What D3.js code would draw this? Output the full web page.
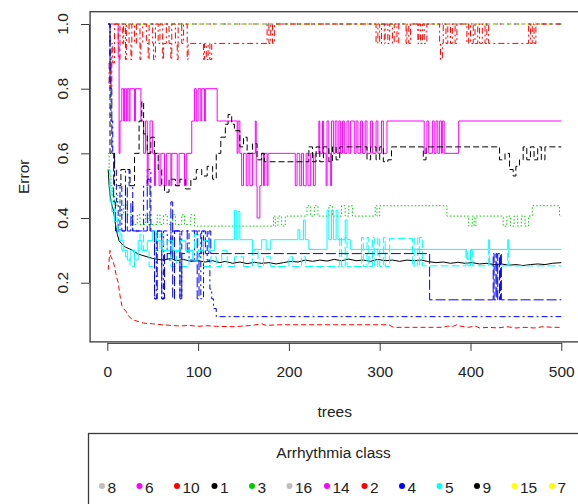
<!DOCTYPE html>
<html><head><meta charset="utf-8">
<script src="https://cdn.jsdelivr.net/npm/d3@7"></script>
<style>
html,body{margin:0;padding:0;background:#fff;}
svg{display:block;}
text{font-family:"Liberation Sans",Arial,sans-serif;fill:#222;}
</style>
</head><body>
<svg id="c" width="578" height="504"></svg>
<script>
// ---- data: [trees, error] change points ----
const xTicks = [0, 100, 200, 300, 400, 500];
const yTicks = [0.2, 0.4, 0.6, 0.8, 1.0];
const xLabel = "trees";
const yLabel = "Error";
const legendTitle = "Arrhythmia class";
const legendLabels = ["8","6","10","1","3","16","14","2","4","5","9","15","7"];
const legendColors = ["#BEBEBE","#FF00FF","#FF0000","#000000","#00CD00","#BEBEBE","#FF00FF","#FF0000","#0000FF","#00FFFF","#000000","#FFFF00","#FFFF00"];

const errOOB = [[1,0.55],[2,0.5],[3,0.47],[5,0.44],[7,0.42],[9,0.38],[11,0.35],[13,0.33],[16,0.32],[20,0.31],[24,0.305],[28,0.3],[33,0.29],[38,0.285],[44,0.28],[50,0.275],[56,0.272],[62,0.27],[70,0.275],[76,0.268],[84,0.272],[92,0.266],[100,0.268],[108,0.264],[116,0.268],[124,0.262],[130,0.266],[138,0.26],[146,0.264],[154,0.259],[162,0.263],[170,0.26],[178,0.262],[186,0.258],[194,0.262],[202,0.266],[210,0.264],[218,0.27],[226,0.266],[234,0.27],[242,0.267],[250,0.272],[258,0.268],[266,0.273],[274,0.268],[282,0.27],[290,0.266],[298,0.272],[306,0.268],[314,0.27],[322,0.266],[330,0.27],[338,0.268],[346,0.27],[354,0.265],[362,0.262],[370,0.264],[378,0.26],[386,0.263],[394,0.26],[402,0.262],[410,0.258],[418,0.26],[426,0.256],[434,0.258],[442,0.254],[450,0.256],[458,0.253],[466,0.256],[474,0.258],[482,0.256],[490,0.26],[500,0.262]];

const errRedLow = [[1,0.24],[2,0.27],[3,0.3],[4,0.28],[6,0.27],[8,0.25],[10,0.22],[12,0.2],[14,0.16],[16,0.13],[18,0.12],[21,0.11],[24,0.095],[28,0.085],[34,0.08],[40,0.075],[50,0.073],[60,0.07],[70,0.068],[80,0.066],[90,0.068],[100,0.065],[110,0.067],[120,0.065],[140,0.064],[160,0.068],[170,0.073],[175,0.068],[190,0.07],[250,0.07],[310,0.07],[315,0.062],[370,0.062],[375,0.066],[380,0.064],[385,0.07],[388,0.066],[393,0.064],[398,0.062],[405,0.066],[410,0.06],[420,0.062],[430,0.06],[440,0.064],[450,0.06],[460,0.062],[470,0.06],[480,0.064],[490,0.062],[500,0.062]];

const errGreen = [[1,0.6],[2,0.53],[4,0.5],[6,0.47],[8,0.44],[11,0.47],[14,0.41],[18,0.44],[22,0.41],[27,0.38],[33,0.41],[36,0.38],[42,0.41],[45,0.38],[55,0.41],[58,0.38],[62,0.41],[66,0.38],[72,0.41],[75,0.38],[82,0.41],[85,0.38],[92,0.41],[96,0.375],[183,0.406],[185,0.375],[188,0.406],[192,0.375],[196,0.406],[220,0.438],[224,0.406],[228,0.438],[232,0.406],[244,0.438],[248,0.406],[258,0.438],[262,0.406],[266,0.438],[270,0.406],[295,0.438],[297,0.406],[300,0.438],[374,0.406],[398,0.375],[402,0.406],[404,0.375],[406,0.406],[436,0.375],[440,0.406],[444,0.375],[448,0.406],[452,0.375],[456,0.406],[460,0.375],[464,0.406],[468,0.438],[496,0.438],[498,0.406],[500,0.406]];

const errBlueDotDash = [[1,1.0],[3,0.9],[4,0.7],[6,0.6],[8,0.55],[10,0.45],[12,0.36],[14,0.5],[16,0.36],[20,0.55],[24,0.5],[28,0.36],[40,0.5],[44,0.55],[48,0.36],[52,0.15],[54,0.36],[60,0.15],[62,0.36],[66,0.27],[70,0.36],[80,0.15],[82,0.36],[90,0.27],[96,0.36],[103,0.15],[106,0.36],[110,0.27],[113,0.18],[115,0.15],[117,0.12],[120,0.095],[500,0.095]];

const errCyanDash = [[1,0.55],[3,0.5],[5,0.45],[8,0.4],[12,0.35],[16,0.3],[20,0.28],[25,0.25],[30,0.3],[36,0.35],[40,0.3],[46,0.25],[52,0.3],[58,0.35],[62,0.3],[70,0.25],[76,0.3],[82,0.25],[90,0.3],[96,0.35],[100,0.3],[106,0.25],[114,0.28],[120,0.25],[126,0.3],[132,0.25],[140,0.28],[150,0.25],[160,0.3],[166,0.25],[172,0.28],[180,0.25],[200,0.28],[204,0.25],[214,0.28],[218,0.25],[256,0.34],[258,0.25],[262,0.34],[264,0.25],[280,0.34],[282,0.25],[286,0.34],[288,0.25],[292,0.34],[294,0.25],[298,0.34],[300,0.25],[304,0.34],[306,0.25],[311,0.337],[336,0.25],[338,0.34],[342,0.25],[344,0.34],[347,0.252],[395,0.3],[397,0.252],[400,0.3],[402,0.252],[420,0.3],[421,0.252],[441,0.3],[442,0.252],[500,0.252]];

const errMagenta = [[1,1.0],[12,0.9],[13,0.6],[14,0.7],[16,0.8],[18,0.7],[19,0.8],[21,0.7],[22,0.8],[24,0.7],[25,0.8],[30,0.7],[31,0.8],[37,0.7],[40,0.6],[42,0.7],[44,0.5],[45,0.6],[47,0.7],[50,0.6],[52,0.5],[53,0.6],[57,0.5],[59,0.6],[63,0.5],[65,0.6],[70,0.5],[71,0.6],[77,0.5],[79,0.6],[85,0.5],[87,0.6],[93,0.7],[96,0.8],[98,0.7],[100,0.8],[103,0.7],[104,0.8],[107,0.7],[108,0.8],[121,0.7],[143,0.6],[144,0.7],[146,0.6],[148,0.5],[150,0.6],[153,0.5],[155,0.6],[157,0.5],[160,0.6],[163,0.7],[164,0.5],[165,0.4],[168,0.5],[170,0.6],[172,0.5],[173,0.6],[176,0.5],[177,0.6],[207,0.5],[209,0.6],[212,0.5],[214,0.6],[216,0.5],[219,0.6],[221,0.5],[224,0.6],[227,0.5],[229,0.6],[233,0.7],[234,0.6],[237,0.7],[238,0.6],[241,0.5],[242,0.7],[244,0.6],[246,0.5],[247,0.7],[249,0.6],[251,0.7],[253,0.6],[255,0.7],[257,0.6],[259,0.7],[261,0.6],[264,0.7],[266,0.6],[268,0.7],[272,0.6],[274,0.7],[276,0.6],[279,0.7],[281,0.6],[284,0.7],[286,0.6],[290,0.7],[292,0.6],[296,0.7],[298,0.6],[302,0.7],[304,0.6],[308,0.7],[349,0.6],[352,0.7],[354,0.6],[358,0.7],[360,0.6],[362,0.7],[364,0.6],[366,0.7],[368,0.6],[369,0.7],[371,0.6],[387,0.7],[500,0.7]];

const errYellow = [[1,1.0],[500,1.0]];
const errGray = [[1,1.0],[500,1.0]];
const errGreenTop = [[1,1.0],[500,1.0]];
const errMagentaTop = [[1,1.0],[500,1.0]];

const errBlackDash = [[1,1.0],[3,0.6],[8,0.5],[15,0.55],[25,0.5],[30,0.6],[35,0.7],[38,0.76],[40,0.66],[44,0.6],[48,0.65],[52,0.6],[56,0.55],[60,0.5],[63,0.48],[68,0.52],[75,0.5],[80,0.52],[86,0.49],[92,0.52],[98,0.55],[104,0.53],[110,0.56],[116,0.52],[120,0.6],[125,0.65],[130,0.69],[133,0.72],[137,0.69],[140,0.67],[146,0.62],[150,0.65],[154,0.6],[160,0.63],[165,0.58],[170,0.6],[173,0.574],[222,0.62],[226,0.574],[230,0.62],[234,0.574],[238,0.62],[244,0.574],[248,0.62],[252,0.58],[256,0.62],[286,0.58],[290,0.62],[296,0.58],[300,0.62],[304,0.574],[309,0.58],[313,0.62],[348,0.58],[351,0.62],[432,0.58],[438,0.6],[443,0.55],[447,0.53],[450,0.56],[454,0.58],[458,0.62],[462,0.58],[466,0.62],[470,0.58],[474,0.62],[478,0.58],[482,0.62],[500,0.62]];

const errRedTop = [[1,0.82],[2,0.88],[4,0.8],[5,0.94],[6,0.88],[8,1.0],[12,0.94],[13,0.89],[14,1.0],[17,0.94],[18,1.0],[20,0.89],[21,1.0],[24,0.94],[26,0.89],[27,1.0],[30,0.94],[32,1.0],[36,0.89],[37,0.94],[39,1.0],[43,0.94],[45,0.89],[46,1.0],[50,0.94],[51,0.89],[53,1.0],[56,0.94],[58,1.0],[61,0.89],[62,0.94],[65,1.0],[68,0.94],[70,0.89],[71,1.0],[75,0.94],[77,0.89],[78,1.0],[82,0.94],[84,1.0],[88,0.89],[89,0.94],[106,0.89],[107,0.94],[109,0.89],[111,0.94],[113,0.89],[115,0.94],[176,1.0],[178,0.94],[180,1.0],[182,0.94],[184,1.0],[296,0.94],[298,1.0],[300,0.94],[302,1.0],[305,0.94],[306,1.0],[309,0.94],[311,1.0],[314,0.94],[316,1.0],[319,0.94],[321,1.0],[329,0.94],[330,1.0],[332,0.94],[334,1.0],[342,0.94],[343,1.0],[345,0.94],[347,1.0],[349,0.94],[352,1.0],[366,0.94],[367,0.89],[369,0.94],[370,1.0],[373,0.94],[375,1.0],[378,0.94],[380,1.0],[383,0.94],[385,1.0],[396,0.94],[398,1.0],[400,0.94],[403,1.0],[405,0.94],[408,1.0],[410,0.94],[413,1.0],[416,0.94],[418,1.0],[420,0.94],[464,1.0],[466,0.94],[468,1.0],[470,0.94],[472,1.0],[500,1.0]];

const errBlueDash = [[1,1.0],[3,0.8],[5,0.6],[7,0.45],[9,0.36],[20,0.5],[22,0.36],[26,0.45],[28,0.36],[44,0.52],[47,0.36],[52,0.15],[55,0.36],[60,0.15],[63,0.29],[70,0.45],[72,0.15],[74,0.36],[80,0.15],[82,0.29],[88,0.36],[99,0.15],[101,0.29],[104,0.36],[108,0.29],[112,0.36],[114,0.29],[355,0.147],[425,0.29],[426,0.147],[428,0.29],[429,0.147],[430,0.29],[432,0.147],[433,0.29],[434,0.147],[500,0.147]];

const errCyanSolid = [[1,0.5],[3,0.45],[5,0.42],[8,0.39],[11,0.36],[14,0.33],[18,0.3],[22,0.27],[26,0.3],[30,0.27],[34,0.33],[38,0.3],[44,0.33],[50,0.36],[54,0.33],[60,0.3],[66,0.33],[72,0.3],[80,0.33],[86,0.3],[94,0.27],[100,0.3],[106,0.33],[112,0.3],[118,0.333],[140,0.424],[142,0.333],[144,0.42],[146,0.333],[160,0.303],[170,0.333],[175,0.303],[180,0.333],[210,0.364],[212,0.333],[216,0.394],[218,0.333],[222,0.303],[242,0.424],[244,0.333],[247,0.424],[249,0.333],[252,0.424],[254,0.333],[262,0.394],[264,0.333],[268,0.303],[396,0.273],[400,0.303],[420,0.333],[421,0.303],[441,0.333],[442,0.303],[500,0.303]];

// ---- series styles ----
const series = [
  {data: errOOB, color: "#000000", dash: null, step: false},
  {data: errRedLow, color: "#FF0000", dash: "5,3", step: false},
  {data: errGreen, color: "#00CD00", dash: "1.5,2", step: true},
  {data: errBlueDotDash, color: "#0000FF", dash: "6,3,2,3", step: true},
  {data: errCyanDash, color: "#00FFFF", dash: "8,3", step: true},
  {data: errMagenta, color: "#FF00FF", dash: null, step: true},
  {data: errYellow, color: "#FFFF00", dash: "4,4", step: true},
  {data: errGray, color: "#8a8a8a", dash: "4,3", step: true},
  {data: errBlackDash, color: "#000000", dash: "6,3", step: true},
  {data: errRedTop, color: "#FF0000", dash: "6,3,2,3", step: true},
  {data: errGreenTop, color: "#00CD00", dash: "1.5,9", step: true},
  {data: errMagentaTop, color: "#C000C0", dash: "1.5,13", step: true},
  {data: errBlueDash, color: "#0000FF", dash: "10,3", step: true},
  {data: errCyanSolid, color: "#00FFFF", dash: null, step: true}
];

// ---- drawing ----
const svg = d3.select("#c");
svg.append("rect").attr("width",578).attr("height",504).attr("fill","#fff");

const x = d3.scaleLinear().domain([0,500]).range([107.3,561.3]);
const y = d3.scaleLinear().domain([0.2,1.0]).range([282.7,24]);
const box = {l: x(-18.96), r: x(519.96), t: y(1.038), b: y(0.017)};

svg.append("clipPath").attr("id","pc").append("rect")
  .attr("x",box.l).attr("y",box.t).attr("width",box.r-box.l).attr("height",box.b-box.t);

const gLines = svg.append("g").attr("clip-path","url(#pc)");
series.forEach(s => {
  const line = d3.line().x(d => x(d[0])).y(d => y(d[1]))
    .curve(s.step ? d3.curveStepAfter : d3.curveLinear);
  gLines.append("path").attr("d", line(s.data))
    .attr("fill","none").attr("stroke", s.color).attr("stroke-width",1)
    .attr("stroke-dasharray", s.dash);
});

// box
svg.append("rect").attr("x",box.l).attr("y",box.t)
  .attr("width",box.r-box.l).attr("height",box.b-box.t)
  .attr("fill","none").attr("stroke","#3a3a3a").attr("stroke-width",1.3);

// x axis
const gx = svg.append("g").attr("transform",`translate(0,${box.b+1})`)
  .call(d3.axisBottom(x).tickValues(xTicks).tickSize(8).tickSizeOuter(0).tickFormat(d3.format("d")));
gx.select(".domain").attr("stroke","#3a3a3a");
gx.selectAll(".tick line").attr("stroke","#3a3a3a");
gx.selectAll(".tick text").attr("y",34.3).attr("dy",null)
  .style("font-size","15.5px").style("font-family","'Liberation Sans',Arial,sans-serif").attr("fill","#222");

// y axis
const gy = svg.append("g").attr("transform",`translate(${box.l-1},0)`)
  .call(d3.axisLeft(y).tickValues(yTicks).tickSize(8).tickSizeOuter(0).tickFormat(""));
gy.select(".domain").attr("stroke","#3a3a3a");
gy.selectAll(".tick line").attr("stroke","#3a3a3a");
svg.append("g").selectAll("text").data(yTicks).join("text")
  .attr("transform", d => `translate(67.6,${y(d)}) rotate(-90)`)
  .attr("text-anchor","middle").style("font-size","15.5px")
  .text(d => d3.format(".1f")(d));

// axis titles
svg.append("text").attr("x",(box.l+box.r)/2).attr("y",416.5)
  .attr("text-anchor","middle").style("font-size","15.5px").text(xLabel);
svg.append("text").attr("transform",`translate(28.5,${(box.t+box.b)/2}) rotate(-90)`)
  .attr("text-anchor","middle").style("font-size","15.5px").text(yLabel);

// legend
const lg = svg.append("g");
lg.append("rect").attr("x",88.5).attr("y",433.5).attr("width",600).attr("height",200)
  .attr("fill","#fff").attr("stroke","#3a3a3a").attr("stroke-width",1.3);
lg.append("text").attr("x",333.6).attr("y",458).attr("text-anchor","middle")
  .style("font-size","15.5px").text(legendTitle);
const lx = d3.scaleLinear().domain([0,12]).range([102,552]);
const items = lg.selectAll("g.item").data(legendLabels).join("g").attr("class","item")
  .attr("transform",(d,i)=>`translate(${lx(i)},486)`);
items.append("circle").attr("r",3).attr("fill",(d,i)=>legendColors[i]);
items.append("text").attr("x",5.5).attr("y",7).style("font-size","15.5px").text(d=>d);
</script>
</body></html>
